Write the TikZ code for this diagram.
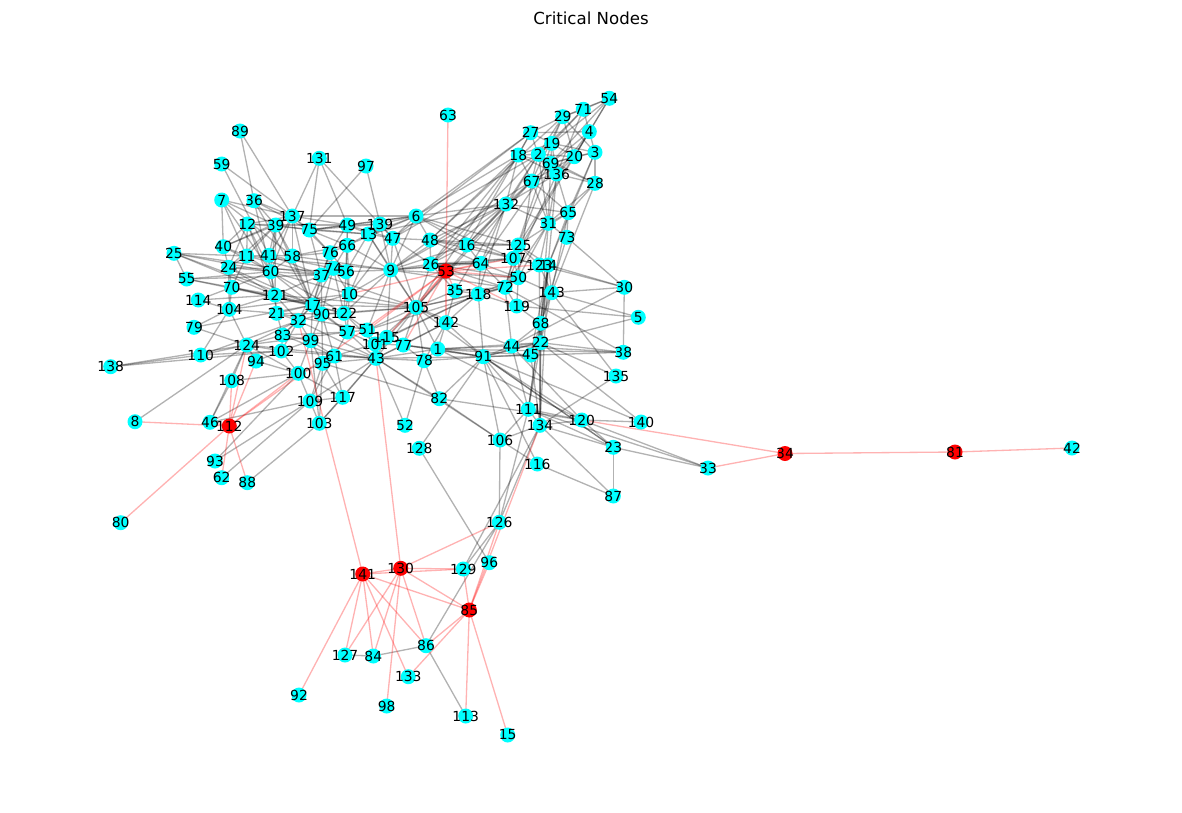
\documentclass[tikz,border=0pt]{standalone}
\usepackage{fontspec}
\setmainfont{DejaVu Sans}
\usepackage{tikz}
\usetikzlibrary{backgrounds}
\definecolor{nodecyan}{RGB}{0,255,255}
\definecolor{nodered}{RGB}{255,0,0}

\begin{document}
\begin{tikzpicture}[x=0.02cm, y=-0.02cm,
  vert/.style={circle, fill=nodecyan, inner sep=0pt, minimum size=0.3cm},
  crit/.style={vert, fill=nodered},
  lbl/.style={inner sep=0pt, font=\fontsize{7.9}{8}\selectfont},
  gedge/.style={draw=black, opacity=0.3, line width=0.75pt},
  redge/.style={draw=nodered, opacity=0.3, line width=0.75pt}]
\useasboundingbox (0,0) rectangle (1182,812);
\node [font=\fontsize{9.45}{11}\selectfont] (ttl) at (591,18) {Critical Nodes};
% nodes
\node [vert] (n1) at (437.7,349) {};
\node [vert] (n2) at (538.3,154.3) {};
\node [vert] (n3) at (595,152.3) {};
\node [vert] (n4) at (589.3,131.7) {};
\node [vert] (n5) at (638.3,317.3) {};
\node [vert] (n6) at (416,216) {};
\node [vert] (n7) at (221.7,200) {};
\node [vert] (n8) at (135,421.7) {};
\node [vert] (n9) at (390.7,270) {};
\node [vert] (n10) at (349.3,294) {};
\node [vert] (n11) at (246.7,256) {};
\node [vert] (n12) at (247.3,224) {};
\node [vert] (n13) at (368.3,234) {};
\node [vert] (n14) at (548.3,265) {};
\node [vert] (n15) at (507.7,735) {};
\node [vert] (n16) at (466.7,245) {};
\node [vert] (n17) at (312.7,305) {};
\node [vert] (n18) at (518.3,155) {};
\node [vert] (n19) at (551.7,143.3) {};
\node [vert] (n20) at (574.3,156.7) {};
\node [vert] (n21) at (276.7,313.3) {};
\node [vert] (n22) at (540.7,342.7) {};
\node [vert] (n23) at (613.3,447.3) {};
\node [vert] (n24) at (228.7,267.3) {};
\node [vert] (n25) at (174,253.3) {};
\node [vert] (n26) at (430.7,264) {};
\node [vert] (n27) at (530.7,132.7) {};
\node [vert] (n28) at (595,183.3) {};
\node [vert] (n29) at (562.7,116.7) {};
\node [vert] (n30) at (624.3,287.3) {};
\node [vert] (n31) at (548.3,223.3) {};
\node [vert] (n32) at (298.3,320.7) {};
\node [vert] (n33) at (708,468) {};
\node [crit] (n34) at (785,453.5) {};
\node [vert] (n35) at (455,290.7) {};
\node [vert] (n36) at (254,200.7) {};
\node [vert] (n37) at (321.3,275) {};
\node [vert] (n38) at (623.3,352.3) {};
\node [vert] (n39) at (275.7,225) {};
\node [vert] (n40) at (223.3,246.7) {};
\node [vert] (n41) at (269,255.3) {};
\node [vert] (n42) at (1072,448) {};
\node [vert] (n43) at (376,358.3) {};
\node [vert] (n44) at (511.7,346) {};
\node [vert] (n45) at (530.7,355) {};
\node [vert] (n46) at (210,422.3) {};
\node [vert] (n47) at (392.7,238.3) {};
\node [vert] (n48) at (430,240) {};
\node [vert] (n49) at (347.3,225) {};
\node [vert] (n50) at (518.3,277.7) {};
\node [vert] (n51) at (367.3,330) {};
\node [vert] (n52) at (405,425.3) {};
\node [crit] (n53) at (446,271) {};
\node [vert] (n54) at (609.3,98.3) {};
\node [vert] (n55) at (186.7,279) {};
\node [vert] (n56) at (346,271.7) {};
\node [vert] (n57) at (347.3,332) {};
\node [vert] (n58) at (292.3,256) {};
\node [vert] (n59) at (221.7,164) {};
\node [vert] (n60) at (270.7,271.7) {};
\node [vert] (n61) at (334.3,356) {};
\node [vert] (n62) at (221.7,477.7) {};
\node [vert] (n63) at (448,115) {};
\node [vert] (n64) at (480.7,263.3) {};
\node [vert] (n65) at (568.3,212.7) {};
\node [vert] (n66) at (347.3,245.3) {};
\node [vert] (n67) at (531.7,181) {};
\node [vert] (n68) at (540.7,323.3) {};
\node [vert] (n69) at (550.7,163.3) {};
\node [vert] (n70) at (231.7,287.3) {};
\node [vert] (n71) at (583.3,109.3) {};
\node [vert] (n72) at (505,287.3) {};
\node [vert] (n73) at (566.7,237.3) {};
\node [vert] (n74) at (333.3,268.3) {};
\node [vert] (n75) at (309.3,230) {};
\node [vert] (n76) at (330,252.7) {};
\node [vert] (n77) at (403.3,345) {};
\node [vert] (n78) at (424,360.7) {};
\node [vert] (n79) at (194,327.3) {};
\node [vert] (n80) at (120.7,522.7) {};
\node [crit] (n81) at (955,452) {};
\node [vert] (n82) at (439.3,398.7) {};
\node [vert] (n83) at (282.7,335) {};
\node [vert] (n84) at (373.3,656) {};
\node [crit] (n85) at (469.3,610) {};
\node [vert] (n86) at (426,645.7) {};
\node [vert] (n87) at (613.3,496) {};
\node [vert] (n88) at (247.3,482.7) {};
\node [vert] (n89) at (240,131) {};
\node [vert] (n90) at (321.7,314) {};
\node [vert] (n91) at (483.3,356.7) {};
\node [vert] (n92) at (299,695) {};
\node [vert] (n93) at (215,461) {};
\node [vert] (n94) at (256,361) {};
\node [vert] (n95) at (322.7,363.3) {};
\node [vert] (n96) at (489.3,562.7) {};
\node [vert] (n97) at (366,166) {};
\node [vert] (n98) at (386.7,706) {};
\node [vert] (n99) at (310.7,340.7) {};
\node [vert] (n100) at (298.3,373.3) {};
\node [vert] (n101) at (375,344) {};
\node [vert] (n102) at (281.3,351) {};
\node [vert] (n103) at (319.3,423.3) {};
\node [vert] (n104) at (229.3,309.3) {};
\node [vert] (n105) at (416,307.3) {};
\node [vert] (n106) at (500,440) {};
\node [vert] (n107) at (513.3,258.3) {};
\node [vert] (n108) at (231.7,380.7) {};
\node [vert] (n109) at (310,401) {};
\node [vert] (n110) at (200.7,355) {};
\node [vert] (n111) at (528.3,409.3) {};
\node [crit] (n112) at (229.3,426) {};
\node [vert] (n113) at (465.7,716) {};
\node [vert] (n114) at (198.3,300) {};
\node [vert] (n115) at (386.7,337.3) {};
\node [vert] (n116) at (537.3,464) {};
\node [vert] (n117) at (342.7,397.3) {};
\node [vert] (n118) at (478.3,294) {};
\node [vert] (n119) at (516.7,306) {};
\node [vert] (n120) at (581.7,420) {};
\node [vert] (n121) at (275,295) {};
\node [vert] (n122) at (344,313.3) {};
\node [vert] (n123) at (539.3,265) {};
\node [vert] (n124) at (246.7,345) {};
\node [vert] (n125) at (518.3,245) {};
\node [vert] (n126) at (499.3,522.3) {};
\node [vert] (n127) at (345,655) {};
\node [vert] (n128) at (419.3,448.3) {};
\node [vert] (n129) at (463.3,569) {};
\node [crit] (n130) at (400.7,568.3) {};
\node [vert] (n131) at (319.3,158.3) {};
\node [vert] (n132) at (506,204) {};
\node [vert] (n133) at (408.3,676.7) {};
\node [vert] (n134) at (540,425.3) {};
\node [vert] (n135) at (616,376) {};
\node [vert] (n136) at (556.7,174) {};
\node [vert] (n137) at (292.3,216) {};
\node [vert] (n138) at (110.7,366.7) {};
\node [vert] (n139) at (380,224) {};
\node [vert] (n140) at (641,422) {};
\node [crit] (n141) at (362.7,574) {};
\node [vert] (n142) at (446,322.7) {};
\node [vert] (n143) at (551.7,292.7) {};
% labels
\foreach \i in {1,...,143} \node [lbl] (t\i) at (n\i) {\i};
% edges
\begin{scope}[on background layer]
% top cluster
\foreach \a/\b in {54/71,54/29,54/4,54/20,54/2,54/69,71/29,71/4,71/19,71/2,71/136,29/19,29/2,29/27,29/3,29/20,29/67,
  4/3,4/20,4/27,4/69,4/136,27/18,27/2,27/19,18/2,18/67,18/69,18/132,18/136,19/2,19/3,19/20,19/69,19/136,19/18,
  2/69,2/20,2/67,2/132,2/28,2/31,20/3,20/136,20/69,20/67,3/28,3/69,3/65,69/136,69/67,69/28,69/31,136/67,136/31,
  136/28,136/65,136/132,67/132,67/31,67/65,28/65,28/31,132/31,132/65,31/65,31/73,65/73,
  18/48,18/6,27/16,2/26,132/48,132/64,132/16,132/9,67/105,69/125,19/107,136/22,31/68,65/22,73/68,73/30,28/143,
  65/125,31/50,31/123,132/13,132/118,2/47,67/9,29/48,18/26,27/6,136/72,4/125,3/14,20/107,69/64,132/6,132/26,
  132/105,67/16,18/105,27/47,31/72,65/14,2/35,67/50}
  \draw [gedge] (n\a.center) -- (n\b.center);
% right of the centre
\foreach \a/\b in {16/125,16/64,16/48,16/26,16/107,125/107,125/123,125/50,125/72,125/14,107/50,107/72,107/123,
  107/64,123/50,123/143,14/143,14/68,14/22,14/45,64/50,64/72,64/118,64/26,50/72,50/118,50/143,50/119,72/118,
  72/119,72/35,72/44,35/118,35/105,35/142,118/119,118/142,118/91,119/143,119/68,143/68,143/30,143/5,68/22,68/44,
  68/45,22/44,22/45,22/91,22/38,22/1,44/91,44/1,45/91,45/1,91/1,91/142,91/78,91/77,91/38,91/5,91/140,91/120,
  91/23,142/1,142/105,142/78,142/77,142/43,1/78,1/77,22/134,68/134,45/134,44/111,22/111,14/111,123/134,107/30,
  14/30,72/38,143/135,119/5,44/38,1/38,44/30,22/135,22/140,
  6/48,6/16,6/125,6/107,6/9,6/47,6/13,6/139,48/26,48/107,48/64,48/9,48/47,48/125,26/64,26/9,26/105,26/35,
  26/47,26/72,26/50,26/107}
  \draw [gedge] (n\a.center) -- (n\b.center);
% centre
\foreach \a/\b in {75/137,75/39,75/49,75/76,75/37,75/66,75/13,75/139,137/39,137/12,137/41,137/58,137/76,137/17,
  137/60,137/49,39/12,39/11,39/41,39/60,39/58,39/121,39/24,39/17,39/40,12/11,12/40,12/60,12/24,12/121,36/60,
  36/17,36/39,36/137,36/75,49/139,49/13,49/66,49/47,49/56,49/76,139/13,139/47,139/9,139/10,13/47,13/66,13/9,
  13/56,13/105,47/9,47/105,47/10,66/76,66/56,66/74,66/9,66/10,76/74,76/37,76/56,76/17,74/56,74/37,74/10,74/17,
  74/90,74/122,56/10,56/9,56/122,37/17,37/90,37/60,37/121,37/32,9/10,9/105,9/122,9/51,9/115,10/122,10/17,10/57,
  10/105,17/90,17/122,17/32,17/21,17/121,17/60,17/83,17/99,17/57,90/122,90/32,90/57,90/99,90/95,90/61,122/57,
  122/51,122/105,122/101,57/51,57/61,57/101,57/43,51/115,51/101,51/105,51/43,115/101,115/77,115/105,115/43,
  101/43,101/77,101/61,77/105,77/43,77/78,43/61,43/95,43/117,43/103,43/78,43/82,61/95,61/117,61/99,95/99,
  95/100,95/109,95/103,99/32,99/100,99/83,99/102,32/21,32/83,32/121,32/102,21/121,21/83,21/60,121/60,121/70,
  121/104,121/24,60/41,60/58,60/24,60/11,60/70,41/58,41/11,58/17,58/76,11/24,11/40,11/70,24/40,24/70,24/104,
  70/104,70/17,104/124,104/21,124/83,124/102,124/94,124/32,124/100,83/102,102/94,102/100,94/100,100/109,
  109/103,109/117,117/103,100/117,108/100,108/124,46/100,46/124,
  105/78,105/1,105/43,105/101,105/91,105/44,105/72,105/118,17/105,90/105,37/105,6/75,6/66,6/49,9/64,9/50,9/72,
  9/16,9/107,115/118,101/118,51/72,43/91,43/1,77/91,11/9,24/56,40/137,55/37,25/37,70/122,104/10,124/57,124/43,
  102/43,83/61,21/51,60/10,41/74,58/9,12/13,39/49,137/6,121/105,32/43,99/43,83/57,21/90,60/122,11/37,40/60,
  24/17,58/66,41/37}
  \draw [gedge] (n\a.center) -- (n\b.center);
% outer nodes
\foreach \a/\b in {25/55,25/60,25/121,25/17,25/11,55/70,55/60,55/17,114/104,114/121,114/70,79/104,79/124,79/17,
  110/124,110/104,110/102,110/32,138/110,138/124,138/102,108/46,8/124,46/109,93/109,93/100,62/109,88/103,7/40,
  7/11,7/39,7/137,7/60,7/58,59/137,59/41,89/36,89/137,131/137,131/75,131/49,131/47,97/75,97/139,
  117/95,103/99,109/61,109/43,52/78,52/43,82/78,82/95,82/91,82/120,82/106,128/91,128/96,106/134,106/111,
  106/116,106/91,106/126,43/106,116/87,116/91,87/23,87/134,23/120,23/33,23/91,23/111,23/134,33/120,33/111,
  140/120,135/134,120/111,120/134,120/44,120/1,134/111,134/14,134/126,111/68,111/91,111/126,126/129,126/86,
  129/134,84/127,84/86,86/113,30/38}
  \draw [gedge] (n\a.center) -- (n\b.center);
% critical edges
\foreach \a/\b in {53/63,53/26,53/64,53/107,53/123,53/50,53/119,53/35,53/142,53/105,53/10,53/115,53/77,53/51,
  53/112,112/8,112/46,112/108,112/124,112/94,112/100,112/62,112/88,112/80,
  141/32,141/130,141/129,141/85,141/86,141/127,141/84,141/133,141/92,
  130/43,130/126,130/129,130/85,130/127,130/84,130/98,130/86,
  85/129,85/96,85/126,85/134,85/86,85/133,85/113,85/15,34/120,34/33,34/81,81/42}
  \draw [redge] (n\a.center) -- (n\b.center);
\end{scope}
\end{tikzpicture}
\end{document}
